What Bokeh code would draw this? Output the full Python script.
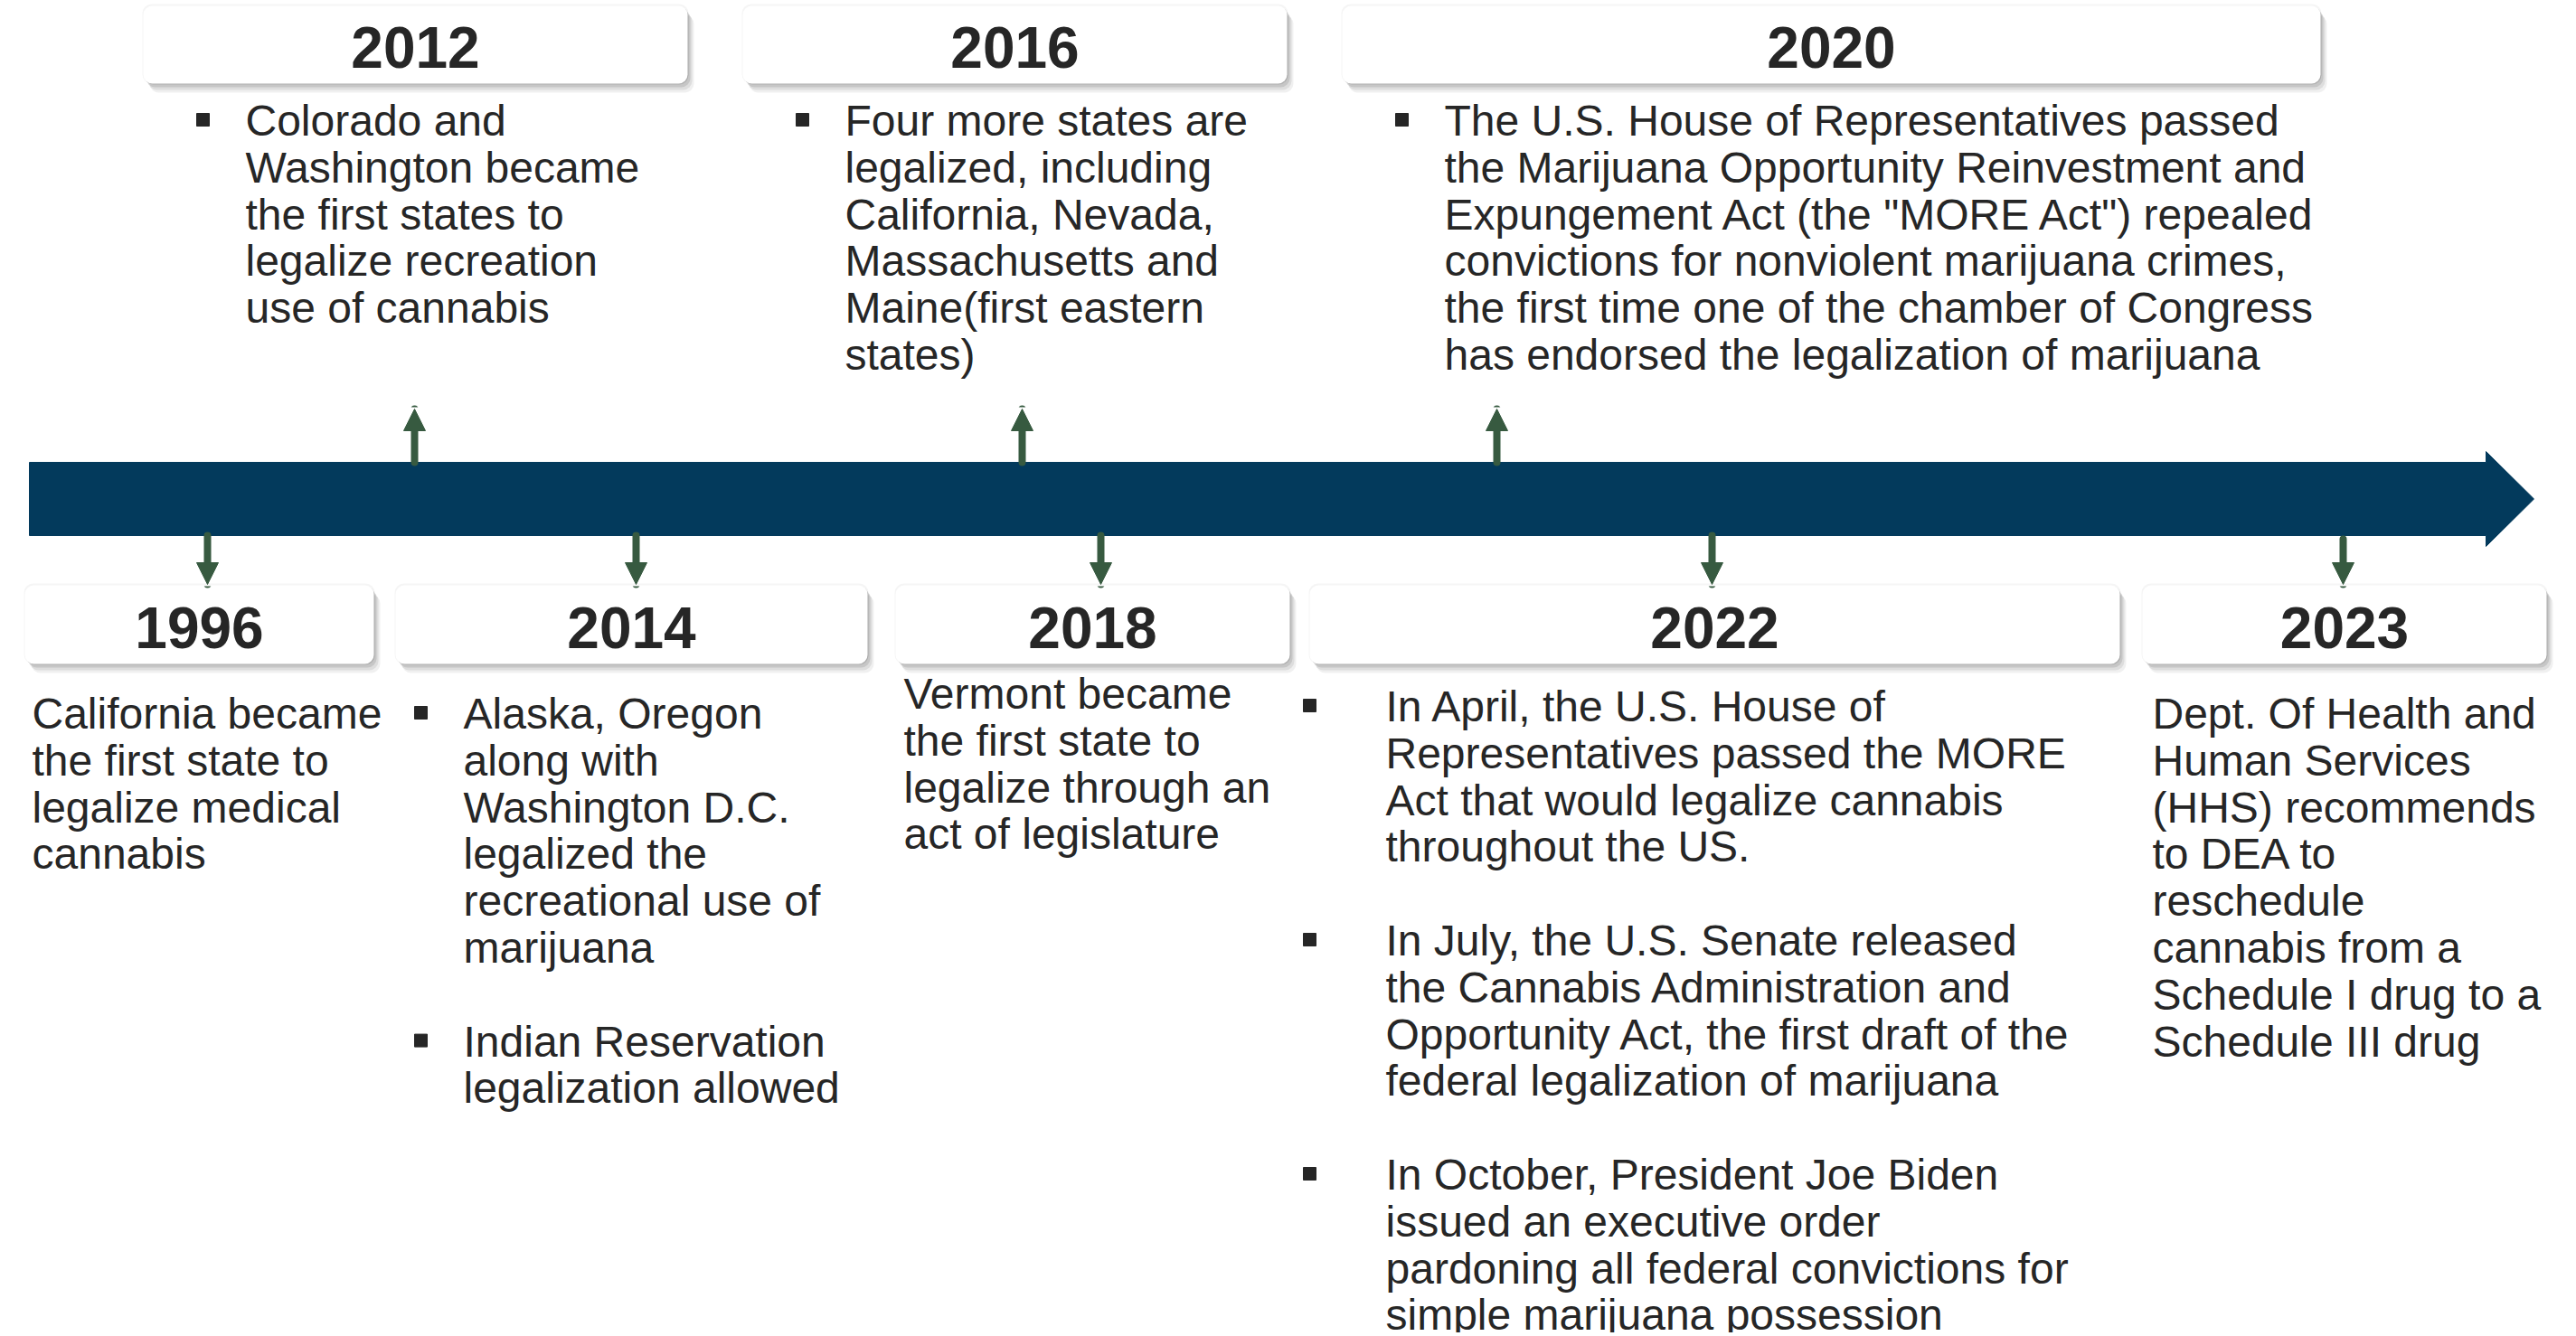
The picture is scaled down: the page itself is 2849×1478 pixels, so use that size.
from bokeh.plotting import figure
from bokeh.models import Range1d, Arrow, NormalHead
from bokeh.core.properties import value
from bokeh.embed import file_html
from bokeh.resources import INLINE

# ---------------- data ----------------
years = ["1996", "2012", "2014", "2016", "2018", "2020", "2022", "2023"]
sides = ["below", "above", "below", "above", "below", "above", "below", "below"]
bulleted = [False, True, True, True, False, True, True, False]
events = [
    ["California became\nthe first state to\nlegalize medical\ncannabis"],
    ["Colorado and\nWashington became\nthe first states to\nlegalize recreation\nuse of cannabis"],
    ["Alaska, Oregon\nalong with\nWashington D.C.\nlegalized the\nrecreational use of\nmarijuana",
     "Indian Reservation\nlegalization allowed"],
    ["Four more states are\nlegalized, including\nCalifornia, Nevada,\nMassachusetts and\nMaine(first eastern\nstates)"],
    ["Vermont became\nthe first state to\nlegalize through an\nact of legislature"],
    ["The U.S. House of Representatives passed\nthe Marijuana Opportunity Reinvestment and\n"
     "Expungement Act (the \"MORE Act\") repealed\nconvictions for nonviolent marijuana crimes,\n"
     "the first time one of the chamber of Congress\nhas endorsed the legalization of marijuana"],
    ["In April, the U.S. House of\nRepresentatives passed the MORE\nAct that would legalize cannabis\nthroughout the US.",
     "In July, the U.S. Senate released\nthe Cannabis Administration and\nOpportunity Act, the first draft of the\nfederal legalization of marijuana",
     "In October, President Joe Biden\nissued an executive order\npardoning all federal convictions for\nsimple marijuana possession"],
    ["Dept. Of Health and\nHuman Services\n(HHS) recommends\nto DEA to\nreschedule\ncannabis from a\nSchedule I drug to a\nSchedule III drug"],
]

# ---------------- layout (pixels of the page) ----------------
box_left = [27, 158, 437, 821, 990, 1484, 1448, 2369]
box_right = [413, 760, 959, 1423, 1426, 2566, 2344, 2816]
arrow_x = [229, 458, 703, 1130, 1217, 1655, 1893, 2591]
text_x = [35, 271, 512, 934, 999, 1597, 1532, 2380]
bullet_x = [None, 224, 465, 887, None, 1550, 1448, None]
first_y = [789, 133, 789, 133, 767, 133, 781, 789]
LINE = 51.8
TOP_BOX = (6, 92)
BOT_BOX = (647, 734)
BAR_TOP, BAR_BOT = 511, 592
BAR_LEFT, BAR_SHAFT_END, BAR_TIP = 32, 2749, 2802
HEAD_TOP, HEAD_BOT = 499, 604

BAR_COLOR = "#033A5C"
GREEN = "#375A40"
TXT = "#262626"
FONT = "Liberation Sans"

W, H = 2833, 1474
p = figure(width=W, height=H, output_backend="svg", toolbar_location=None,
           x_range=Range1d(0, W), y_range=Range1d(H, 0),
           min_border=0, outline_line_color=None)
p.axis.visible = False
p.grid.visible = False
p.background_fill_color = "white"

# main timeline arrow
mid = (BAR_TOP + BAR_BOT) / 2
p.patch([BAR_LEFT, BAR_SHAFT_END, BAR_SHAFT_END, BAR_TIP, BAR_SHAFT_END, BAR_SHAFT_END, BAR_LEFT],
        [BAR_TOP, BAR_TOP, HEAD_TOP, mid, HEAD_BOT, BAR_BOT, BAR_BOT],
        fill_color=BAR_COLOR, line_color=BAR_COLOR, line_width=1)

# year boxes with soft shadow
for i, yr in enumerate(years):
    top, bot = TOP_BOX if sides[i] == "above" else BOT_BOX
    l, r = box_left[i], box_right[i]
    for dx, dy, a in [(7, 10, 0.06), (5, 7, 0.08), (3, 4, 0.10), (1, 1, 0.10)]:
        p.quad(left=[l + dx], right=[r + dx], top=[top + dy], bottom=[bot + dy],
               fill_color="#000000", fill_alpha=a, line_color=None, border_radius=10)
    p.quad(left=[l - 1], right=[r + 1], top=[top - 2], bottom=[bot],
           fill_color="#000000", fill_alpha=0.04, line_color=None, border_radius=10)
    p.quad(left=[l], right=[r], top=[top], bottom=[bot],
           fill_color="white", line_color=None, border_radius=10)
    p.text(x=[(l + r) / 2], y=[(top + bot) / 2 + 3], text=[yr],
           text_font=value(FONT), text_font_style="bold", text_font_size="64px",
           text_color=TXT, text_align="center", text_baseline="middle")

    # connector arrow
    if sides[i] == "above":
        ys, ye = BAR_TOP, 452
    else:
        ys, ye = BAR_BOT + (4 if yr == "2023" else 0), 646
    p.add_layout(Arrow(end=NormalHead(size=24, fill_color=GREEN, line_color=GREEN, line_width=1),
                       x_start=arrow_x[i], y_start=ys, x_end=arrow_x[i], y_end=ye,
                       line_color=GREEN, line_width=8, line_cap="round"))

    # description text
    xs, ys_, ts = [], [], []
    bx, by = [], []
    k = 0
    for para in events[i]:
        lines = para.split("\n")
        if bulleted[i]:
            bx.append(bullet_x[i])
            by.append(first_y[i] + k * LINE - 1)
        for ln in lines:
            xs.append(text_x[i])
            ys_.append(first_y[i] + k * LINE)
            ts.append(ln)
            k += 1
        k += 1
    p.text(x=xs, y=ys_, text=ts, text_font=value(FONT), text_font_size="48px",
           text_color=TXT, text_align="left", text_baseline="middle")
    if bx:
        p.scatter(x=bx, y=by, marker="square", size=14, fill_color=TXT, line_color=TXT)

open("out.html", "w").write(file_html(p, INLINE))
